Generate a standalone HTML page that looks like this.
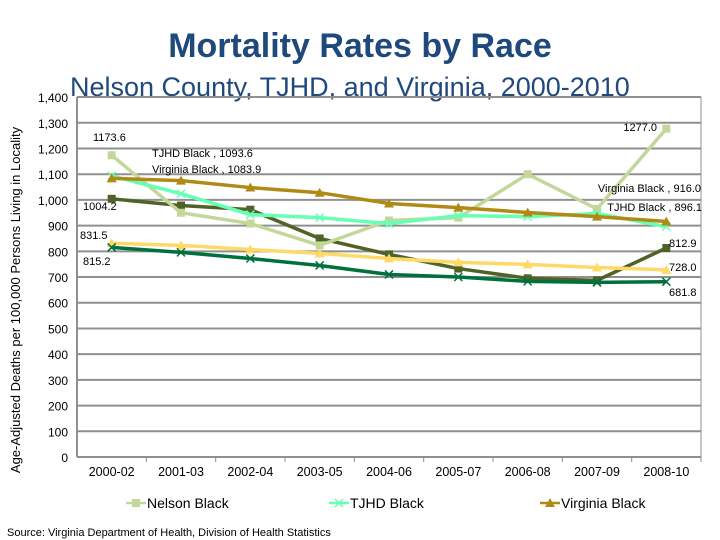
<!DOCTYPE html>
<html><head><meta charset="utf-8"><style>
body{margin:0;width:720px;height:540px;background:#fff;overflow:hidden;font-family:"Liberation Sans",sans-serif}
svg{display:block}
</style></head><body>
<svg id="c" width="720" height="540" font-family="Liberation Sans, sans-serif">
<text x="360" y="57" text-anchor="middle" font-size="34" font-weight="bold" fill="#1f497d">Mortality Rates by Race</text>
<text x="70" y="96" font-size="27" fill="#1f497d">Nelson County, TJHD, and Virginia, 2000-2010</text>
<text transform="translate(20,300) rotate(-90)" text-anchor="middle" font-size="13" fill="#000">Age-Adjusted Deaths per 100,000 Persons Living in Locality</text>
<text x="7" y="536" font-size="11" fill="#000">Source: Virginia Department of Health, Division of Health Statistics</text>
<g id="g"></g>
</svg>
<script>
const categories=["2000-02","2001-03","2002-04","2003-05","2004-06","2005-07","2006-08","2007-09","2008-10"];
const yTicks=[0,100,200,300,400,500,600,700,800,900,1000,1100,1200,1300,1400];
const nelsonBlack=[1173.6,950,908,823,920,931,1100,965,1277.0];
const tjhdBlack=[1093.6,1024,943,931,908,939,935,947,896.1];
const virginiaBlack=[1083.9,1075,1048,1028,986,970,951,935,916.0];
const nelsonWhite=[1004.2,978,962,850,788,733,695,687,812.9];
const virginiaWhite=[831.5,823,807,792,772,757,749,737,728.0];
const tjhdWhite=[815.2,796,772,745,710,700,683,679,681.8];
const NS="http://www.w3.org/2000/svg";
const g=document.getElementById('g');
const X0=77,X1=701,Y0=457,scale=0.2571;
const xs=i=>X0+(X1-X0)/categories.length*(i+0.5);
const ys=v=>Y0-v*scale;
function mk(t,a,p){const e=document.createElementNS(NS,t);for(const k in a)e.setAttribute(k,a[k]);(p||g).appendChild(e);return e;}
yTicks.forEach(v=>{
 if(v>0){const l=mk('line',{x1:X0,x2:X1,y1:ys(v),y2:ys(v),stroke:'#909090','stroke-width':2});
 
 }
 const t=mk('text',{x:68,y:ys(v)+5,'text-anchor':'end','font-size':12});
 t.textContent=v.toLocaleString('en-US');
 
 
});
let ax=mk('line',{x1:X0,x2:X0,y1:ys(1400),y2:Y0,stroke:'#909090','stroke-width':2});


ax=mk('line',{x1:X0,x2:X1,y1:Y0,y2:Y0,stroke:'#909090','stroke-width':2});


ax=mk('line',{x1:X1,x2:X1,y1:ys(1400),y2:Y0,stroke:'#909090','stroke-width':1});


categories.forEach((c,i)=>{
 const x=X0+(X1-X0)/categories.length*(i+1);
 mk('line',{x1:x,x2:x,y1:Y0,y2:Y0+5,stroke:'#909090','stroke-width':1});
 const t=mk('text',{x:xs(i),y:Y0+19,'text-anchor':'middle','font-size':12.5});
 t.textContent=c;
 
 
});
function marker(type,x,y,col,p){
 if(type==='sq')return mk('rect',{x:x-4,y:y-4,width:8,height:8,fill:col},p);
 if(type==='tri')return mk('polygon',{points:`${x},${y-5} ${x-5},${y+4} ${x+5},${y+4}`,fill:col},p);
 return mk('path',{d:`M${x-4} ${y-4}L${x+4} ${y+4}M${x-4} ${y+4}L${x+4} ${y-4}`,stroke:col,'stroke-width':1.5,fill:'none'},p);
}
const series=[
 ['nelson-white',nelsonWhite,'#4f6228','sq'],
 ['virginia-white',virginiaWhite,'#ffd966','tri'],
 ['tjhd-white',tjhdWhite,'#00703c','x'],
 ['nelson-black',nelsonBlack,'#c4d79b','sq'],
 ['tjhd-black',tjhdBlack,'#66ffb3','x'],
 ['virginia-black',virginiaBlack,'#b08a14','tri']];
series.forEach(([n,d,col,m])=>{
 const grp=mk('g',{});
 
 
 mk('polyline',{points:d.map((v,i)=>xs(i)+','+ys(v)).join(' '),fill:'none',stroke:col,'stroke-width':3.5,'stroke-linejoin':'round'},grp);
 d.forEach((v,i)=>{const e=marker(m,xs(i),ys(v),col,grp);
 
 });
});
const labels=[
 ['1173.6',93,141,'start'],['TJHD Black , 1093.6',152,157,'start'],['Virginia Black , 1083.9',152,173,'start'],
 ['1004.2',83,210,'start'],['831.5',80,239,'start'],['815.2',83,265,'start'],
 ['1277.0',657,131,'end'],['Virginia Black , 916.0',701,192,'end'],['TJHD Black , 896.1',702,211,'end'],
 ['812.9',669,247,'start'],['728.0',669,271,'start'],['681.8',669,296,'start']];
labels.forEach(([t,x,y,a])=>{const e=mk('text',{x:x,y:y,'font-size':11,'text-anchor':a});e.textContent=t;
 
 });
[['Nelson Black',126,'#c4d79b','sq'],['TJHD Black',329,'#66ffb3','x'],['Virginia Black',540,'#b08a14','tri']].forEach(([t,x,col,m])=>{
 const grp=mk('g',{});
 
 
 mk('line',{x1:x,x2:x+20,y1:503,y2:503,stroke:col,'stroke-width':2.5},grp);
 marker(m,x+10,503,col,grp);
 const e=mk('text',{x:x+21,y:508,'font-size':14},grp);e.textContent=t;
});
</script>
</body></html>
